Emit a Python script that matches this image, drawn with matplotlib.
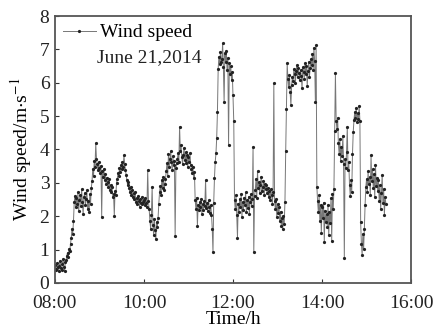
import matplotlib
matplotlib.use("Agg")
import matplotlib.pyplot as plt
import numpy as np

plt.rcParams['font.family'] = ['Liberation Serif', 'DejaVu Serif']
plt.rcParams['mathtext.fontset'] = 'stix'

# wind speed (m/s), one reading per minute starting at 08:00
wind_speed = [
    0.55, 0.42, 0.38, 0.61, 0.47, 0.35, 0.52, 0.66, 0.44, 0.39, 0.58, 0.71, 0.49, 0.36, 0.62,
    0.68, 0.82, 0.91, 0.78, 1.02, 0.95, 1.18, 1.35, 1.62, 1.48, 1.85, 2.42, 2.61, 2.28, 2.55,
    2.38, 2.72, 2.15, 2.49, 2.63, 2.31, 2.80, 2.44, 2.06, 2.57, 2.69, 2.35, 2.51, 2.78, 2.22,
    2.47, 2.12, 2.65, 2.38, 2.84, 3.05, 3.42, 3.21, 3.66, 3.48, 4.18, 3.72, 3.55, 3.38, 3.62,
    3.44, 3.29, 3.51, 1.98, 3.36, 3.18, 3.42, 3.09, 3.27, 2.96, 3.15, 3.03, 2.88, 3.11, 2.79,
    2.94, 2.71, 2.86, 2.58, 2.67, 2.02, 2.75, 2.62, 2.98, 3.12, 3.28, 3.19, 3.45, 3.33, 3.52,
    3.41, 3.63, 3.48, 3.82, 3.56, 3.37, 3.24, 3.08, 2.92, 3.01, 2.83, 2.71, 2.88, 2.64, 2.77,
    2.59, 2.68, 2.51, 2.73, 2.42, 2.55, 2.38, 2.61, 2.47, 2.29, 2.52, 2.41, 2.36, 2.58, 2.44,
    2.49, 2.33, 2.56, 2.41, 2.28, 3.38, 2.45, 2.21, 1.86, 1.62, 2.05, 2.88, 1.74, 1.45, 1.92,
    1.58, 1.31, 1.83, 1.67, 1.95, 2.38, 2.72, 2.91, 2.64, 3.08, 2.83, 3.17, 2.77, 2.95, 3.12,
    3.34, 3.58, 3.21, 3.86, 3.47, 3.72, 3.95, 3.61, 3.38, 3.79, 3.52, 3.66, 1.42, 3.44, 3.58,
    3.71, 3.89, 3.62, 4.68, 3.94, 4.12, 3.78, 3.55, 3.83, 4.05, 3.69, 3.91, 3.58, 3.82, 3.47,
    3.76, 3.62, 3.88, 3.54, 3.41, 3.29, 3.48, 3.15, 3.32, 2.48, 2.21, 2.56, 1.72, 2.34, 2.19,
    2.42, 2.27, 2.51, 2.08, 2.36, 2.19, 2.45, 2.31, 3.08, 2.24, 2.39, 2.15, 2.48, 2.29, 2.11,
    2.33, 2.05, 1.62, 0.92, 2.41, 3.15, 3.62, 3.88, 4.34, 5.12, 6.42, 6.78, 6.55, 6.91, 6.63,
    6.71, 7.18, 6.48, 5.42, 6.89, 6.62, 6.95, 6.37, 6.74, 4.12, 6.58, 6.26, 6.49, 6.08, 6.31,
    5.62, 4.85, 2.48, 2.21, 2.63, 2.05, 1.36, 2.38, 2.14, 2.52, 2.29, 2.67, 1.97, 2.43, 2.18,
    2.56, 2.34, 2.71, 2.12, 2.48, 2.25, 2.59, 2.08, 2.42, 2.66, 2.31, 2.53, 4.08, 0.92, 2.61,
    2.78, 3.12, 2.56, 3.35, 2.84, 3.02, 2.69, 2.93, 3.18, 2.75, 2.88, 3.06, 2.62, 2.97, 2.81,
    2.92, 2.68, 2.85, 2.57, 2.74, 2.49, 2.81, 2.63, 2.38, 2.71, 5.98, 2.45, 2.22, 2.51, 1.98,
    2.36, 2.09, 2.28, 1.85, 2.14, 1.72, 1.95, 1.63, 2.02, 1.78, 2.44, 3.95, 5.21, 6.58, 6.12,
    5.86, 6.24, 5.71, 5.32, 5.94, 6.18, 6.05, 6.41, 6.27, 5.98, 6.35, 6.52, 6.16, 6.43, 6.29,
    6.07, 6.38, 6.21, 5.84, 6.46, 6.33, 6.12, 6.58, 6.25, 6.49, 5.91, 6.36, 6.62, 6.18, 6.44,
    6.71, 6.52, 6.85, 6.39, 7.05, 6.64, 5.42, 7.12, 2.87, 2.45, 2.12, 2.63, 1.86, 2.34, 1.51,
    2.28, 1.95, 2.41, 1.24, 2.17, 1.82, 2.06, 1.68, 2.35, 1.43, 2.12, 1.79, 2.54, 1.27, 2.66,
    2.21, 2.82, 4.55, 6.28, 4.86, 4.62, 4.95, 4.18, 3.86, 4.32, 3.64, 4.08, 3.79, 4.41, 3.57,
    0.76, 3.72, 3.45, 3.91, 4.68, 3.38, 3.62, 2.94, 2.61, 3.08, 2.72, 3.86, 4.52, 4.88, 5.12,
    4.95, 5.24, 4.82, 5.08, 4.91, 5.31, 4.86, 1.82, 1.18, 0.84, 1.46, 1.02, 1.63, 2.35, 2.88,
    3.12, 2.71, 3.34, 2.95, 3.18, 2.64, 3.82, 3.05, 3.41, 2.83, 3.26, 2.58, 3.52, 2.91, 3.15,
    2.76, 3.08, 2.45, 2.93, 2.21, 2.68, 3.24, 2.39, 2.82, 2.05, 2.57, 2.36,
]
start_hour = 8
hour_ticks = [8, 10, 12, 14, 16]
hour_labels = ['08:00', '10:00', '12:00', '14:00', '16:00']

hours = start_hour + np.arange(len(wind_speed)) / 60.0

fig = plt.figure(figsize=(4.43, 3.34), dpi=100)
ax = fig.add_axes([0.124, 0.153, 0.804, 0.799])

ax.plot(hours, wind_speed, color='#777777', lw=0.7, marker='.', ms=2.6,
        mfc='#222222', mec='#222222', label='Wind speed')

ax.set_xlim(8, 16)
ax.set_ylim(0, 8)
ax.set_xticks(hour_ticks)
ax.set_xticklabels(hour_labels)
ax.set_yticks(range(0, 9))
ax.tick_params(direction='in', length=3, width=0.8, labelsize=14, colors='#333333',
               labelcolor='#222222')
ax.tick_params(axis='x', pad=9)
ax.tick_params(axis='y', pad=4)
for sp in ax.spines.values():
    sp.set_color('#555555')
    sp.set_linewidth(1.3)

ax.set_xlabel('Time/h', fontsize=14, labelpad=-1)
ax.set_ylabel('Wind speed/m$\\cdot$s$^{-1}$', fontsize=14, labelpad=4)

leg = ax.legend(loc='upper left', frameon=False, fontsize=14, numpoints=1,
                handlelength=1.7, handletextpad=0.2, borderaxespad=0.1,
                borderpad=0.3)
ax.text(0.118, 0.845, 'June 21,2014', transform=ax.transAxes, fontsize=14,
        color='#222222', va='center')

fig.savefig('out.png', dpi=100)
